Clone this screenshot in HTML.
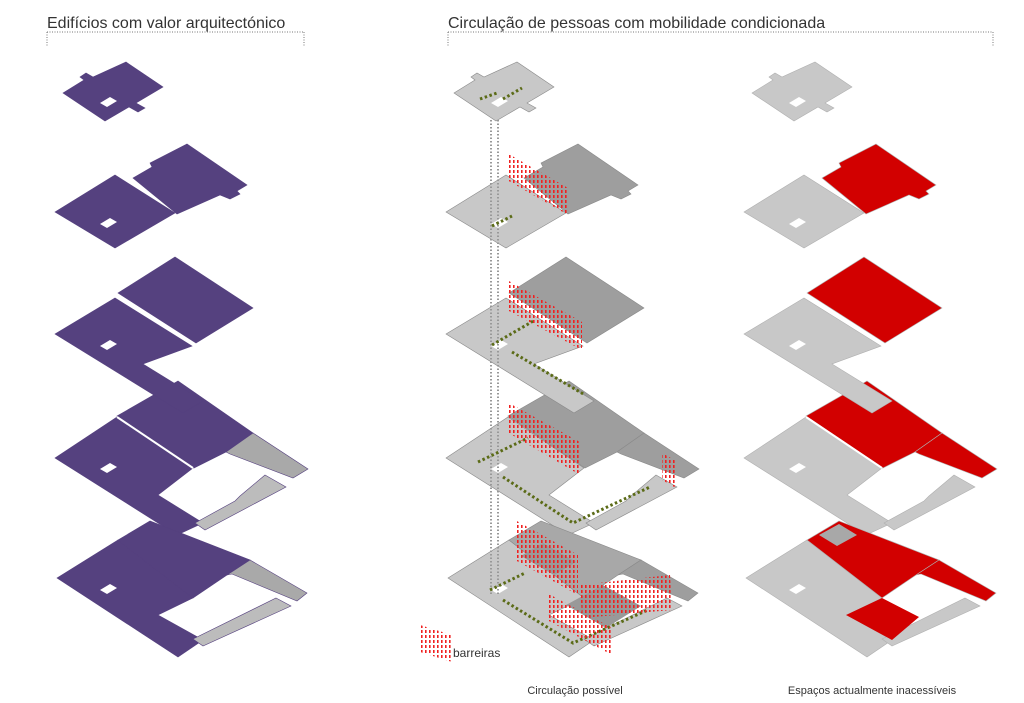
<!DOCTYPE html>
<html><head><meta charset="utf-8"><style>
html,body{margin:0;padding:0;background:#fff;}
svg{display:block;font-family:"Liberation Sans",sans-serif;}
.a{fill:var(--a);stroke:var(--s);stroke-width:.6}
.b{fill:var(--b);stroke:var(--s);stroke-width:.6}
.e{fill:var(--e);stroke:var(--s);stroke-width:.6}
.f{fill:var(--f);stroke:var(--s);stroke-width:.6}
.g{fill:var(--g);stroke:var(--s);stroke-width:.6}
.h{fill:#fff}
</style></head><body>
<svg width="1024" height="703" viewBox="0 0 1024 703" xmlns="http://www.w3.org/2000/svg">
<defs>
<pattern id="bar" x="0" y="0" width="4" height="5" patternUnits="userSpaceOnUse">
<rect x="1" y="0" width="1.6" height="3" fill="#f02020"/>
</pattern>
<g id="plates">
<polygon class="a" points="63,93 84,80 80,77 86,73 93,77 126,62 163,87 136,103 145,108 138,112 129,107 105,121"/>
<polygon class="h" points="100,103 110,97 117,101 107,107"/>
<polygon class="a" points="55,212 115,175 175,213 115,248"/>
<polygon class="b" points="133,178 152,167 150,163 187,144 247,185 237,191 240,194 230,199 220,195 177,214"/>
<polygon class="h" points="100,224 110,218 117,222 107,228"/>
<polygon class="a" points="55,458 117,417 193,468 158,495 203,523 177,535"/>
<polygon class="b" points="117,416 178,381 253,433 226,452 194,468"/>
<polygon class="e" points="253,433 308,469 293,478 230,454 226,452"/>
<polygon class="f" points="265,475 286,487 205,530 195,523 235,501 240,496"/>
<polygon class="h" points="100,469 110,463 117,467 107,473"/>
<polygon class="a" points="55,334 115,298 192,346 143,364 203,401 183,413"/>
<polygon class="b" points="118,293 175,257 253,308 196,343"/>
<polygon class="h" points="100,346 110,340 117,344 107,350"/>
<polygon class="a" points="57,578 118,540 193,598 158,615 203,640 178,657"/>
<polygon class="g" points="118,540 150,521 250,560 227,575 193,598"/>
<polygon class="e" points="250,560 307,593 297,601 232,574 227,575"/>
<polygon class="f" points="276,598 291,606 203,646 193,639"/>
<polygon class="h" points="100,590 110,584 117,588 107,594"/>
</g>
</defs>

<text x="47" y="28" font-size="16" fill="#333">Edifícios com valor arquitectónico</text>
<path d="M47 32 H304 M47 32 V47 M304 32 V47" stroke="#777" stroke-width="1" stroke-dasharray="1 1.5" fill="none"/>
<text x="448" y="28" font-size="16" fill="#333">Circulação de pessoas com mobilidade condicionada</text>
<path d="M448 32 H993 M448 32 V47 M993 32 V47" stroke="#777" stroke-width="1" stroke-dasharray="1 1.5" fill="none"/>

<use href="#plates" style="--a:#55417f;--b:#55417f;--e:#a9a9a9;--f:#bcbcbc;--g:#55417f;--s:#55417f"/>
<line x1="117" y1="417" x2="193" y2="468" stroke="#fff" stroke-width="2"/>

<g transform="translate(391,0)">
<use href="#plates" style="--a:#c8c8c8;--b:#9e9e9e;--e:#9e9e9e;--f:#c8c8c8;--g:#a8a8a8;--s:#8a8a8a"/>
<polygon points="130,556 152,543 185,562 163,575" fill="#999"/>
<polygon points="175,605 212,585 250,606 215,628" fill="#999"/>
</g>
<line x1="491" y1="120" x2="491" y2="595" stroke="#999" stroke-width="2" stroke-dasharray="1.5 2"/>
<line x1="498" y1="120" x2="498" y2="595" stroke="#999" stroke-width="2" stroke-dasharray="1.5 2"/>
<g stroke="#5b6b17" stroke-width="3" stroke-dasharray="2.5 2.5" fill="none">
<path d="M480 99 L497 93 M503 99 L522 88"/>
<path d="M492 226 L512 216"/>
<path d="M492 345 L535 320 M512 352 L585 395"/>
<path d="M478 462 L528 438 M503 477 L573 523 L650 487"/>
<path d="M490 590 L525 573 M503 600 L573 643 L648 610"/>
</g>
<g fill="url(#bar)">
<polygon points="507,153 568,188 568,215 507,180"/>
<polygon points="507,280 582,322 582,350 507,310"/>
<polygon points="507,402 580,442 580,475 507,432"/>
<polygon points="662,453 676,461 676,488 662,480"/>
<polygon points="515,520 578,555 578,595 515,560"/>
<polygon points="547,593 612,628 612,655 547,620"/>
<polygon points="580,585 670,575 672,610 582,618"/>
<polygon points="420,625 452,635 452,662 420,652"/>
</g>
<text x="453" y="657" font-size="12" fill="#333">barreiras</text>

<g transform="translate(689,0)">
<use href="#plates" style="--a:#c8c8c8;--b:#d20000;--e:#d20000;--f:#c8c8c8;--g:#d20000;--s:#b0b0b0"/>
<polygon points="157,615 193,598 230,617 203,640" fill="#d20000"/>
<polygon points="130,535 150,524 168,535 148,546" fill="#a8a8a8"/>
<line x1="117" y1="417" x2="193" y2="468" stroke="#fff" stroke-width="2"/>
</g>

<text x="575" y="694" font-size="11" fill="#333" text-anchor="middle">Circulação possível</text>
<text x="872" y="694" font-size="11" fill="#333" text-anchor="middle">Espaços actualmente inacessíveis</text>
</svg>
</body></html>
